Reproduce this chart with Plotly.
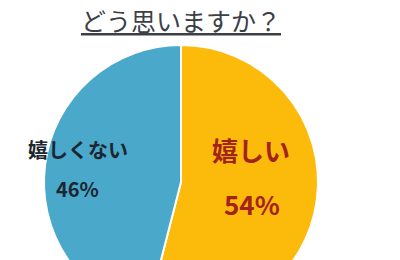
import plotly.graph_objects as go

labels = ["嬉しい", "嬉しくない"]
values = [54, 46]
colors = ["#FCBA0A", "#4AA8CA"]
title_text = "どう思いますか？"

W, H = 400, 330

def py(y):
    return 1 - y / H

def px(x):
    return x / W

fig = go.Figure(go.Pie(
    labels=labels, values=values, sort=False, direction="clockwise", rotation=0,
    marker=dict(colors=colors, line=dict(color="white", width=2)),
    textinfo="none", hoverinfo="skip", showlegend=False,
    domain=dict(x=[px(44), px(318)], y=[py(319), py(45)]),
))

font_jp = "Noto Sans CJK JP"
ann = [
    dict(text=title_text, x=px(181), y=py(20), size=25, color="#3C4046", bold=False, under=True),
    dict(text=labels[1], x=px(78), y=py(149), size=20, color="#1B2630", bold=True),
    dict(text=f"{values[1]}%", x=px(77), y=py(188), size=20, color="#1B2630", bold=True),
    dict(text=labels[0], x=px(251), y=py(149), size=26, color="#A3231B", bold=True),
    dict(text=f"{values[0]}%", x=px(252), y=py(203), size=26, color="#A3231B", bold=True),
]
for a in ann:
    f = dict(family=font_jp, size=a["size"], color=a["color"], weight=700 if a["bold"] else 400)
    if a.get("under"):
        f["lineposition"] = "under"
    fig.add_annotation(text=a["text"], x=a["x"], y=a["y"], xref="paper", yref="paper",
                       xanchor="center", yanchor="middle", showarrow=False, font=f)

fig.update_layout(width=W, height=H, margin=dict(l=0, r=0, t=0, b=0),
                  paper_bgcolor="white", plot_bgcolor="white")

fig.write_html("out.html", config={"displayModeBar": False},
               post_script="document.documentElement.style.overflow='hidden';document.body.style.overflow='hidden';")
